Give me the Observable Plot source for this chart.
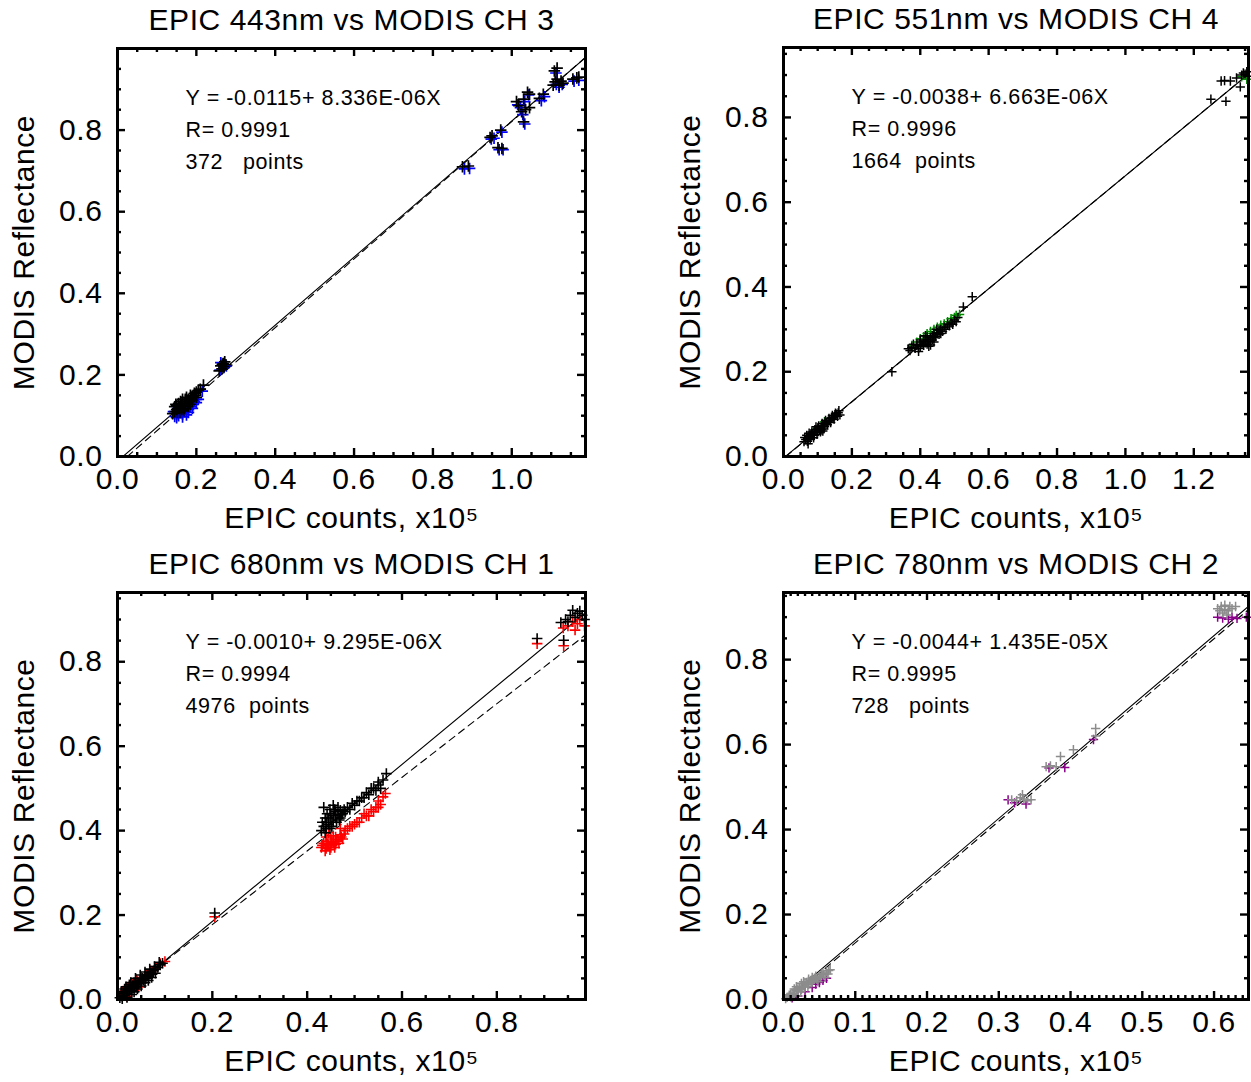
<!DOCTYPE html>
<html><head><meta charset="utf-8">
<script src="https://cdn.jsdelivr.net/npm/d3@7"></script>
<script src="https://cdn.jsdelivr.net/npm/@observablehq/plot@0.6"></script>
<style>
body{margin:0;background:#fff;}
#wrap{position:relative;width:1251px;height:1082px;overflow:hidden;background:#fff;}
.panel{position:absolute;}
svg text{white-space:pre;}
</style></head><body><div id="wrap"></div>
<script>
// ---------------- DATA ----------------
const titles = ["EPIC 443nm vs MODIS CH 3", "EPIC 551nm vs MODIS CH 4", "EPIC 680nm vs MODIS CH 1", "EPIC 780nm vs MODIS CH 2"];
const xLabel = "EPIC counts, x10\u2075";
const yLabel = "MODIS Reflectance";
const notes = [
  ["Y = -0.0115+ 8.336E-06X", "R= 0.9991", "372   points"],
  ["Y = -0.0038+ 6.663E-06X", "R= 0.9996", "1664  points"],
  ["Y = -0.0010+ 9.295E-06X", "R= 0.9994", "4976  points"],
  ["Y = -0.0044+ 1.435E-05X", "R= 0.9995", "728   points"]
];
// regression lines: [intercept, slope per 1e5 counts]
const fitSolid = [[-0.0115, 0.8336], [-0.0038, 0.6663], [-0.0010, 0.9295], [-0.0044, 1.435]];
const fitDashed = [[-0.021, 0.842], [-0.0045, 0.667], [0.003, 0.872], [-0.010, 1.432]];
const xDomains = [[0, 1.187], [0, 1.36], [0, 0.987], [0, 0.648]];
const yDomains = [[0, 1.0], [0, 0.965], [0, 0.964], [0, 0.958]];
const xTicks = [[0, 0.2, 0.4, 0.6, 0.8, 1.0], [0, 0.2, 0.4, 0.6, 0.8, 1.0, 1.2], [0, 0.2, 0.4, 0.6, 0.8], [0, 0.1, 0.2, 0.3, 0.4, 0.5, 0.6]];
const yTicks = [0, 0.2, 0.4, 0.6, 0.8];
const xMinorSteps = [0.05, 0.05, 0.05, 0.01];
const yMinorStep = 0.05;
const colors = ["#0000ff", "#008a00", "#ff0000", "#8a008a"];
const mainColors = ["#000000", "#000000", "#000000", "#8c8c8c"];

// panel 1: 443nm (black, blue)
const p1Black = [[0.14,0.105],[0.145,0.11],[0.15,0.115],[0.15,0.125],[0.155,0.118],[0.155,0.13],[0.16,0.12],[0.16,0.135],[0.165,0.125],[0.165,0.14],[0.17,0.13],[0.17,0.118],[0.175,0.135],[0.175,0.145],[0.18,0.128],[0.18,0.14],[0.185,0.15],[0.19,0.138],[0.19,0.148],[0.195,0.155],[0.2,0.145],[0.2,0.158],[0.145,0.122],[0.158,0.108],[0.168,0.112],
  [0.148,0.128],[0.152,0.108],[0.162,0.128],[0.172,0.14],[0.178,0.122],[0.183,0.135],[0.188,0.142],[0.193,0.145],[0.198,0.15],[0.163,0.115],[0.157,0.122],[0.185,0.128],
  [0.21,0.165],[0.218,0.175],[0.205,0.162],
  [0.258,0.21],[0.262,0.222],[0.265,0.215],[0.268,0.228],[0.27,0.22],[0.272,0.232],[0.266,0.226],[0.275,0.225],
  [0.875,0.71],[0.89,0.712],[0.945,0.782],[0.95,0.786],[0.972,0.8],[0.965,0.757],[0.975,0.755],[1.012,0.87],[1.018,0.86],[1.03,0.876],[1.04,0.893],[1.045,0.888],[1.025,0.845],[1.03,0.82],[1.035,0.85],[1.045,0.855],[1.07,0.878],[1.08,0.888],[1.108,0.945],[1.115,0.952],[1.11,0.918],[1.115,0.925],[1.12,0.91],[1.125,0.92],[1.13,0.915],[1.105,0.91],[1.155,0.925],[1.165,0.928],[1.17,0.93]];
const p1Blue = [[0.145,0.098],[0.15,0.103],[0.155,0.1],[0.16,0.108],[0.165,0.104],[0.17,0.11],[0.175,0.102],[0.18,0.115],[0.185,0.122],[0.19,0.128],[0.195,0.135],[0.2,0.14],[0.155,0.112],[0.17,0.122],[0.142,0.11],
  [0.15,0.095],[0.165,0.097],[0.18,0.108],[0.19,0.118],[0.2,0.132],[0.205,0.14],
  [0.215,0.16],[0.26,0.212],[0.27,0.218],[0.276,0.222],[0.262,0.23],
  [0.88,0.705],[0.893,0.706],[0.948,0.778],[0.955,0.78],[0.975,0.795],[0.968,0.752],[0.978,0.752],[1.015,0.862],[1.022,0.855],[1.033,0.87],[1.043,0.886],[1.028,0.838],[1.033,0.815],[1.075,0.872],[1.083,0.882],[1.112,0.94],[1.113,0.912],[1.12,0.905],[1.128,0.912],[1.158,0.92],[1.17,0.922]];

// panel 2: 551nm (black, green)
const p2Black = [[0.06,0.035],[0.065,0.04],[0.07,0.043],[0.07,0.036],[0.075,0.048],[0.08,0.045],[0.08,0.052],[0.085,0.05],[0.09,0.057],[0.09,0.05],[0.095,0.06],[0.1,0.058],[0.1,0.065],[0.105,0.063],[0.11,0.07],[0.11,0.064],[0.115,0.072],[0.12,0.077],[0.12,0.07],[0.125,0.08],[0.13,0.083],[0.135,0.085],[0.14,0.09],[0.145,0.092],[0.15,0.096],[0.155,0.1],[0.16,0.103],[0.075,0.055],[0.095,0.07],[0.115,0.06],
  [0.062,0.045],[0.068,0.05],[0.072,0.03],[0.078,0.04],[0.083,0.058],[0.088,0.044],[0.092,0.063],[0.098,0.052],[0.103,0.072],[0.108,0.058],[0.113,0.078],[0.118,0.065],[0.123,0.085],[0.128,0.075],[0.133,0.09],[0.138,0.08],[0.143,0.097],[0.148,0.088],[0.152,0.102],[0.158,0.095],[0.162,0.108],[0.165,0.098],
  [0.317,0.2],[0.365,0.254],[0.375,0.258],[0.385,0.255],[0.39,0.262],[0.4,0.26],[0.4,0.27],[0.405,0.265],[0.41,0.272],[0.415,0.268],[0.42,0.276],[0.42,0.282],[0.425,0.272],[0.43,0.28],[0.435,0.285],[0.44,0.29],[0.445,0.283],[0.45,0.292],[0.455,0.298],[0.46,0.3],[0.47,0.305],[0.48,0.312],[0.49,0.315],[0.5,0.322],[0.51,0.328],[0.43,0.263],[0.448,0.3],[0.526,0.353],[0.552,0.377],
  [0.37,0.25],[0.38,0.265],[0.395,0.255],[0.41,0.262],[0.42,0.265],[0.435,0.275],[0.44,0.28],[0.455,0.288],[0.465,0.295],[0.475,0.3],[0.485,0.308],[0.495,0.312],[0.505,0.318],[0.4,0.275],[0.415,0.285],[0.46,0.29],[0.44,0.27],[0.425,0.26],[0.395,0.248],
  [1.25,0.843],[1.294,0.838],[1.28,0.886],[1.29,0.887],[1.307,0.886],[1.336,0.872],[1.325,0.893],[1.34,0.9],[1.345,0.905],[1.35,0.902],[1.355,0.908],[1.358,0.897]];
const p2Green = [[0.375,0.262],[0.39,0.27],[0.4,0.278],[0.41,0.283],[0.42,0.29],[0.43,0.295],[0.44,0.3],[0.45,0.305],[0.46,0.31],[0.47,0.313],[0.48,0.318],[0.49,0.325],[0.5,0.328],[0.505,0.333],[0.515,0.335],[0.085,0.055],[0.1,0.068],[0.12,0.082],[1.34,0.896],[1.355,0.89]];

// panel 3: 680nm (black, red)
const p3Black = [[0.005,0.004],[0.01,0.008],[0.012,0.015],[0.015,0.01],[0.018,0.02],[0.02,0.014],[0.022,0.025],[0.025,0.018],[0.028,0.03],[0.03,0.022],[0.032,0.033],[0.035,0.028],[0.038,0.036],[0.04,0.03],[0.042,0.042],[0.045,0.037],[0.048,0.045],[0.05,0.04],[0.052,0.05],[0.055,0.046],[0.058,0.055],[0.06,0.05],[0.063,0.058],[0.066,0.055],[0.07,0.063],[0.073,0.06],[0.076,0.068],[0.08,0.072],[0.085,0.076],[0.09,0.082],[0.015,0.025],[0.025,0.035],[0.035,0.04],[0.03,0.012],
  [0.008,0.018],[0.018,0.03],[0.028,0.04],[0.038,0.05],[0.048,0.058],[0.058,0.065],[0.068,0.072],[0.078,0.078],[0.088,0.088],[0.02,0.005],[0.035,0.018],[0.05,0.032],[0.065,0.045],[0.08,0.062],[0.095,0.086],[0.01,0.002],[0.042,0.025],[0.058,0.04],[0.072,0.052],
  [0.205,0.205],
  [0.43,0.4],[0.435,0.41],[0.44,0.405],[0.44,0.42],[0.445,0.43],[0.445,0.415],[0.45,0.425],[0.45,0.44],[0.455,0.42],[0.455,0.435],[0.46,0.43],[0.46,0.445],[0.465,0.438],[0.47,0.43],[0.47,0.448],[0.475,0.44],[0.435,0.455],[0.455,0.46],[0.48,0.445],[0.49,0.45],[0.5,0.46],[0.51,0.47],[0.52,0.478],[0.53,0.485],[0.535,0.5],[0.545,0.495],[0.55,0.508],[0.555,0.5],[0.567,0.535],
  [0.432,0.42],[0.438,0.43],[0.442,0.44],[0.448,0.45],[0.452,0.41],[0.458,0.45],[0.462,0.42],[0.468,0.425],[0.472,0.438],[0.438,0.395],[0.448,0.405],[0.465,0.455],[0.478,0.45],[0.485,0.455],[0.495,0.465],[0.505,0.47],[0.515,0.478],[0.525,0.49],[0.54,0.5],[0.55,0.515],[0.56,0.52],
  [0.885,0.855],[0.941,0.851],[0.935,0.893],[0.945,0.9],[0.95,0.895],[0.955,0.91],[0.96,0.922],[0.965,0.905],[0.97,0.915],[0.975,0.92],[0.98,0.91],[0.985,0.9]];
const p3Red = [[0.008,0.012],[0.012,0.02],[0.018,0.028],[0.025,0.03],[0.03,0.038],[0.04,0.046],[0.05,0.052],[0.06,0.06],[0.07,0.068],[0.08,0.075],[0.09,0.085],[0.1,0.09],[0.02,0.008],[0.045,0.03],
  [0.205,0.196],
  [0.43,0.36],[0.435,0.37],[0.44,0.358],[0.44,0.375],[0.445,0.365],[0.45,0.38],[0.45,0.36],[0.455,0.37],[0.46,0.385],[0.46,0.368],[0.465,0.378],[0.47,0.39],[0.475,0.38],[0.48,0.4],[0.49,0.41],[0.5,0.415],[0.51,0.42],[0.52,0.44],[0.53,0.435],[0.535,0.45],[0.545,0.455],[0.55,0.47],[0.555,0.462],[0.565,0.488],[0.47,0.405],[0.445,0.395],
  [0.432,0.365],[0.438,0.352],[0.443,0.368],[0.448,0.355],[0.452,0.372],[0.458,0.36],[0.462,0.375],[0.467,0.37],[0.472,0.385],[0.478,0.392],[0.485,0.405],[0.495,0.41],[0.505,0.42],[0.515,0.43],[0.525,0.435],[0.54,0.445],[0.55,0.455],[0.56,0.48],[0.455,0.388],[0.44,0.385],
  [0.885,0.843],[0.941,0.838],[0.94,0.88],[0.95,0.885],[0.96,0.895],[0.97,0.89],[0.975,0.9],[0.985,0.885],[0.965,0.875]];

// panel 4: 780nm (gray, purple)
const p4Gray = [[0.005,0.005],[0.008,0.01],[0.01,0.006],[0.012,0.015],[0.015,0.012],[0.018,0.022],[0.02,0.018],[0.022,0.028],[0.025,0.024],[0.028,0.034],[0.03,0.03],[0.032,0.04],[0.035,0.036],[0.038,0.045],[0.04,0.042],[0.043,0.05],[0.046,0.048],[0.05,0.055],[0.053,0.06],[0.056,0.058],[0.06,0.065],[0.063,0.068],[0.015,0.025],[0.025,0.038],[0.035,0.048],
  [0.003,0.002],[0.01,0.012],[0.014,0.008],[0.02,0.025],[0.024,0.018],[0.027,0.03],[0.03,0.038],[0.034,0.03],[0.037,0.04],[0.042,0.046],[0.045,0.055],[0.048,0.042],[0.052,0.052],[0.055,0.062],[0.058,0.052],[0.062,0.06],[0.065,0.07],[0.018,0.03],[0.028,0.042],[0.04,0.052],
  [0.318,0.47],[0.325,0.468],[0.33,0.475],[0.335,0.472],[0.34,0.468],[0.345,0.47],[0.333,0.482],[0.366,0.548],[0.372,0.55],[0.38,0.548],[0.386,0.572],[0.404,0.588],[0.435,0.638],[0.435,0.62],
  [0.605,0.92],[0.61,0.925],[0.615,0.928],[0.62,0.915],[0.625,0.92],[0.612,0.91],[0.63,0.925],[0.618,0.905],[0.608,0.915],[0.622,0.925],[0.615,0.918]];
const p4Purple = [[0.02,0.008],[0.03,0.018],[0.04,0.028],[0.05,0.04],[0.06,0.05],[0.045,0.036],[0.055,0.045],[0.012,0.004],
  [0.313,0.47],[0.322,0.463],[0.338,0.46],[0.37,0.545],[0.392,0.546],[0.432,0.612],
  [0.605,0.9],[0.612,0.898],[0.62,0.895],[0.625,0.9],[0.632,0.897],[0.645,0.9]];

const mainSets = [p1Black, p2Black, p3Black, p4Gray];
const colorSets = [p1Blue, p2Green, p3Red, p4Purple];

// ---------------- LAYOUT ----------------
const layout = [
  {left: 0,   top: 0,   width: 600, height: 545, mt: 48, mr: 15, mb: 89, ml: 117, r: 3.8, sw: 1.7},
  {left: 651, top: 0,   width: 600, height: 545, mt: 47, mr: 3,  mb: 89, ml: 132, r: 3.1, sw: 1.5},
  {left: 0,   top: 545, width: 600, height: 537, mt: 47, mr: 15, mb: 83, ml: 117, r: 3.5, sw: 1.6},
  {left: 651, top: 545, width: 600, height: 537, mt: 47, mr: 3,  mb: 83, ml: 132, r: 3.1, sw: 1.5}
];
const fmt = d3.format(".1f");
const majorLen = 8, minorLen = 4;

function segment([a, b], xd, yd) {
  const x0 = Math.max(xd[0], (yd[0] - a) / b), x1 = Math.min(xd[1], (yd[1] - a) / b);
  return [x0, x1].map(x => ({x, y: a + b * x}));
}
function minorTicks(dom, step, majors) {
  const n = Math.round(dom[1] / step);
  return d3.range(n + 1).map(i => +(i * step).toFixed(4))
    .filter(v => v <= dom[1] + 1e-9 && !majors.some(t => Math.abs(t - v) < 1e-6));
}

const wrap = document.getElementById("wrap");
layout.forEach((box, i) => {
  const xd = xDomains[i], yd = yDomains[i];
  const innerW = box.width - box.ml - box.mr, innerH = box.height - box.mt - box.mb;
  const xMin = minorTicks(xd, xMinorSteps[i], xTicks[i]);
  const yMin = minorTicks(yd, yMinorStep, yTicks);
  const tick = {stroke: "black", strokeWidth: 2.4};
  const svg = Plot.plot({
    width: box.width, height: box.height,
    marginTop: box.mt, marginRight: box.mr, marginBottom: box.mb, marginLeft: box.ml,
    style: {fontFamily: "'Liberation Sans', Arial, Helvetica, sans-serif", fontSize: "30px", letterSpacing: "0.6px", color: "black", background: "white", overflow: "visible"},
    x: {domain: xd, ticks: xTicks[i], tickFormat: fmt, tickSize: 0, tickPadding: 11, label: xLabel, labelAnchor: "center", labelOffset: 71, labelArrow: "none"},
    y: {domain: yd, ticks: yTicks, tickFormat: fmt, tickSize: 0, tickPadding: 15, label: yLabel, labelAnchor: "center", labelOffset: 105, labelArrow: "none"},
    marks: [
      Plot.line(segment(fitSolid[i], xd, yd), {x: "x", y: "y", stroke: "black", strokeWidth: 1.1, clip: true}),
      Plot.line(segment(fitDashed[i], xd, yd), {x: "x", y: "y", stroke: "black", strokeWidth: 1.1, strokeDasharray: "7,5", clip: true}),
      Plot.dot(colorSets[i], {x: d => d[0], y: d => d[1], symbol: "plus", r: box.r, stroke: colors[i], strokeWidth: box.sw}),
      Plot.dot(mainSets[i], {x: d => d[0], y: d => d[1], symbol: "plus", r: box.r, stroke: mainColors[i], strokeWidth: box.sw}),
      // inward ticks on all four sides
      Plot.ruleX(xTicks[i], {x: d => d, insetTop: innerH - majorLen, ...tick}),
      Plot.ruleX(xTicks[i], {x: d => d, insetBottom: innerH - majorLen, ...tick}),
      Plot.ruleX(xMin, {x: d => d, insetTop: innerH - minorLen, ...tick}),
      Plot.ruleX(xMin, {x: d => d, insetBottom: innerH - minorLen, ...tick}),
      Plot.ruleY(yTicks, {y: d => d, insetRight: innerW - majorLen, ...tick}),
      Plot.ruleY(yTicks, {y: d => d, insetLeft: innerW - majorLen, ...tick}),
      Plot.ruleY(yMin, {y: d => d, insetRight: innerW - minorLen, ...tick}),
      Plot.ruleY(yMin, {y: d => d, insetLeft: innerW - minorLen, ...tick}),
      Plot.frame({stroke: "black", strokeWidth: 3}),
      Plot.text([titles[i]], {text: d => d, frameAnchor: "top", lineAnchor: "middle", dy: -28, fontSize: 30}),
      Plot.text([notes[i].join("\n")], {text: d => d, frameAnchor: "top-left", textAnchor: "start", lineAnchor: "middle", dx: 68, dy: 78, fontSize: 21.5, lineHeight: 1.5})
    ]
  });
  const holder = document.createElement("div");
  holder.className = "panel";
  holder.style.left = box.left + "px";
  holder.style.top = box.top + "px";
  holder.appendChild(svg);
  wrap.appendChild(holder);
});
</script>
</body></html>
